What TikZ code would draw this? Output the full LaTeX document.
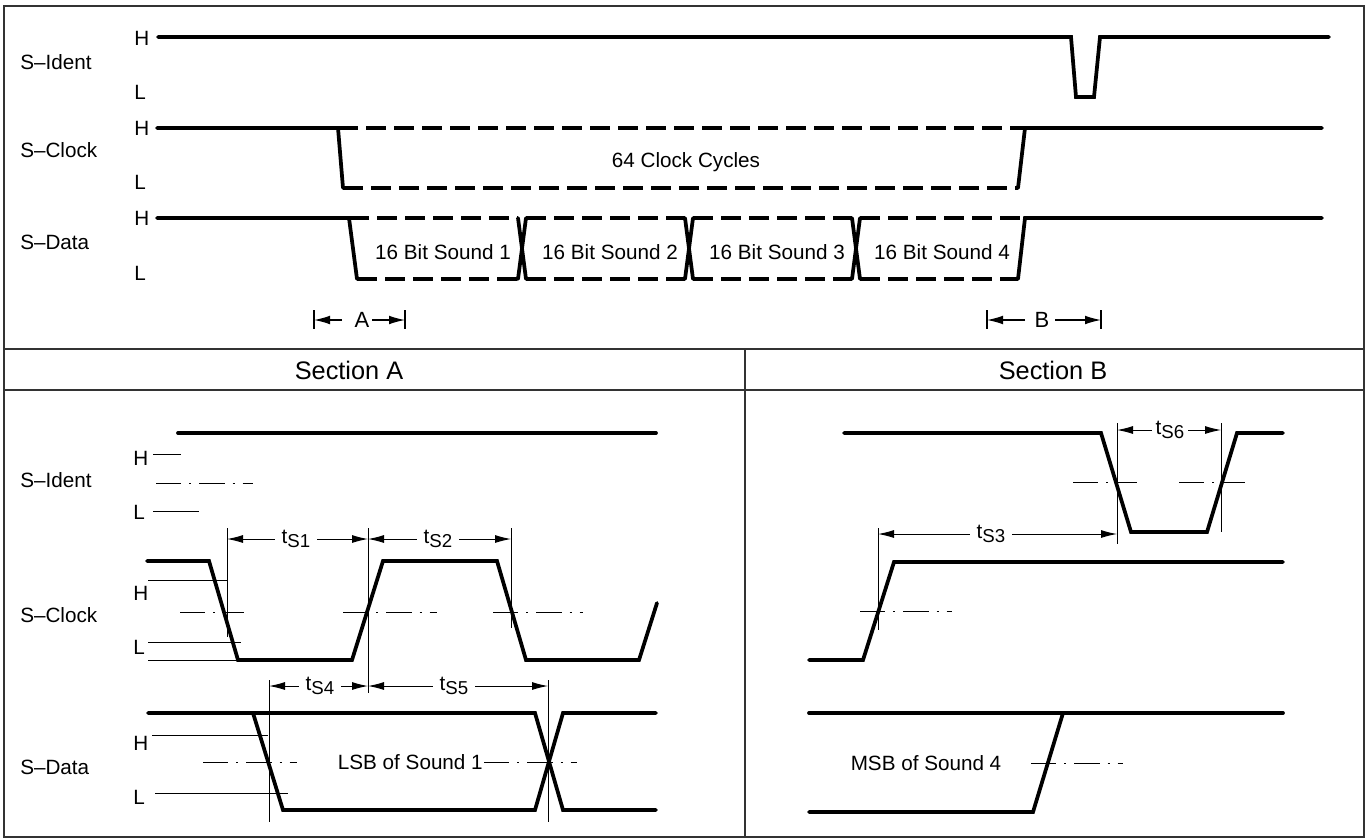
\documentclass[tikz,border=0pt]{standalone}
\usepackage{fontspec}
\setmainfont{Liberation Sans}
\usetikzlibrary{arrows.meta}
\newcommand{\tsub}[1]{t\raisebox{-3pt}{\fontsize{14}{14}\selectfont S#1}}
\begin{document}
\begin{tikzpicture}[x=0.75pt,y=-0.75pt,
  sig/.style={line width=2.8pt,line cap=round,line join=miter},
  dsig/.style={line width=2.8pt,dash pattern=on 15pt off 6pt},
  thinl/.style={line width=0.7pt},
  cline/.style={line width=0.7pt,dash pattern=on 19pt off 6pt on 1.5pt off 6pt},
  frame/.style={line width=1.2pt,draw=black!80},
  lbl/.style={font=\fontsize{15.5}{18}\selectfont,inner sep=0pt,anchor=west},
  txt/.style={font=\fontsize{15.5}{18}\selectfont,inner sep=1pt},
  head/.style={font=\fontsize{19}{22}\selectfont,inner sep=0pt},
  dim/.style={line width=0.7pt,{Latex[length=12pt,width=6pt]}-{Latex[length=12pt,width=6pt]}},
  dimlbl/.style={font=\fontsize{15.5}{18}\selectfont,fill=white,inner xsep=5pt,inner ysep=1pt},
  rarr/.style={line width=0.9pt,-{Latex[length=12pt,width=6.5pt]}},
]
\useasboundingbox (0,0) rectangle (1366,839);
% frame
\draw[frame] (4,6) rectangle (1364,837);
\draw[frame] (4,349) -- (1364,349);
\draw[frame] (4,390) -- (1364,390);
\draw[frame] (745,349) -- (745,837);
\node[head] (secA) at (349,370) {Section A};
\node[head] (secB) at (1053,370) {Section B};

% ===== top overview =====
\node[lbl] (tIdent) at (20,62) {S–Ident};
\node[lbl] (tClock) at (20,150) {S–Clock};
\node[lbl] (tData) at (20,242) {S–Data};
\node[lbl] (tIH) at (134,38) {H};
\node[lbl] (tIL) at (134,92) {L};
\node[lbl] (tCH) at (134,128) {H};
\node[lbl] (tCL) at (134,182) {L};
\node[lbl] (tDH) at (134,218) {H};
\node[lbl] (tDL) at (134,273) {L};

\draw[sig] (158,37) -- (1071,37) -- (1076,97) -- (1094,97) -- (1100,37) -- (1329,37);

\draw[sig] (157,128) -- (338,128) -- (343,188);
\draw[dsig] (343,188) -- (1018,188);
\draw[dsig] (338,128) -- (1025,128);
\draw[sig] (1018,188) -- (1025,128) -- (1322,128);
\node[txt] (cyc) at (686,162) {64 Clock Cycles};

\draw[sig] (157,218) -- (349,218) -- (357,279);
\draw[dsig] (349,218) -- (518,218);
\draw[dsig] (357,279) -- (518,279);
\draw[sig] (518,218) -- (526,279);
\draw[sig] (526,218) -- (518,279);
\draw[dsig] (526,218) -- (685,218);
\draw[dsig] (526,279) -- (685,279);
\draw[sig] (685,218) -- (693,279);
\draw[sig] (693,218) -- (685,279);
\draw[dsig] (693,218) -- (852,218);
\draw[dsig] (693,279) -- (852,279);
\draw[sig] (852,218) -- (860,279);
\draw[sig] (860,218) -- (852,279);
\draw[dsig] (860,218) -- (1025,218);
\draw[dsig] (860,279) -- (1018,279);
\draw[sig] (1018,279) -- (1025,218) -- (1322,218);
\node[txt] (s1) at (443,252) {16 Bit Sound 1};
\node[txt] (s2) at (610,252) {16 Bit Sound 2};
\node[txt] (s3) at (777,252) {16 Bit Sound 3};
\node[txt] (s4) at (942,252) {16 Bit Sound 4};

% A and B markers
\node[font=\fontsize{16.5}{18}\selectfont,inner sep=0pt] (mA) at (362,320) {A};
\coordinate (aL) at (314,320);
\coordinate (aR) at (405,320);
\draw[line width=0.9pt] (314,310) -- (314,329);
\draw[line width=0.9pt] (405,310) -- (405,329);
\draw[rarr] (342,320) -- (aL);
\draw[rarr] (372,320) -- (aR);
\node[font=\fontsize{16.5}{18}\selectfont,inner sep=0pt] (mB) at (1042,320) {B};
\coordinate (bL) at (987,320);
\coordinate (bR) at (1101,320);
\draw[line width=0.9pt] (987,310) -- (987,329);
\draw[line width=0.9pt] (1101,310) -- (1101,329);
\draw[rarr] (1025,320) -- (bL);
\draw[rarr] (1055,320) -- (bR);

% ===== Section A =====
\node[lbl] (aIdent) at (20,480) {S–Ident};
\node[lbl] (aClock) at (20,615) {S–Clock};
\node[lbl] (aData) at (20,767) {S–Data};
\node[lbl] (aIH) at (133,458) {H};
\node[lbl] (aIL) at (133,512) {L};
\node[lbl] (aCH) at (133,593) {H};
\node[lbl] (aCL) at (133,647) {L};
\node[lbl] (aDH) at (133,743) {H};
\node[lbl] (aDL) at (133,797) {L};

% ident
\draw[sig] (178,433) -- (656,433);
\draw[thinl] (153,454) -- (181,454);
\draw[thinl] (153,511) -- (199,511);
\draw[cline] (156,483) -- (253,483);

% clock
\draw[sig] (147,561) -- (209,561) -- (238,660) -- (352,660) -- (383,561) -- (497,561) -- (526,660) -- (639,660) -- (657,603);
\draw[thinl] (148,580) -- (228,580);
\draw[thinl] (148,642) -- (241,642);
\draw[thinl] (148,660) -- (238,660);
\draw[cline] (180,612) -- (244,612);
\draw[cline] (343,612) -- (437,612);
\draw[cline] (493,612) -- (583,612);
\draw[thinl] (227,528) -- (227,637);
\draw[thinl] (368,528) -- (368,693);
\draw[thinl] (511,528) -- (511,628);
\draw[dim] (227,539) -- (368,539);
\draw[dim] (368,539) -- (511,539);
\node[dimlbl] (ts1) at (296,539) {\tsub{1}};
\node[dimlbl] (ts2) at (438,539) {\tsub{2}};

% data
\draw[sig] (148,713) -- (253,713) -- (283,810) -- (535,810) -- (563,713) -- (656,713);
\draw[sig] (253,713) -- (535,713) -- (563,810) -- (656,810);
\draw[thinl] (152,735) -- (268,735);
\draw[thinl] (155,793) -- (288,793);
\draw[cline] (203,762) -- (297,762);
\draw[cline] (484,762) -- (577,762);
\draw[thinl] (269,680) -- (269,822);
\draw[thinl] (548,680) -- (548,822);
\draw[dim] (269,686) -- (368,686);
\draw[dim] (368,686) -- (548,686);
\node[dimlbl] (ts4) at (320,686) {\tsub{4}};
\node[dimlbl] (ts5) at (454,686) {\tsub{5}};
\node[txt,fill=white,inner xsep=0pt,anchor=east] (lsb) at (483,762) {LSB of Sound 1};

% ===== Section B =====
\draw[sig] (844,433) -- (1101,433) -- (1131,532) -- (1207,532) -- (1237,433) -- (1283,433);
\draw[thinl] (1117,423) -- (1117,544);
\draw[thinl] (1221,423) -- (1221,532);
\draw[dim] (1117,430) -- (1221,430);
\node[dimlbl,inner xsep=3pt] (ts6) at (1170,430) {\tsub{6}};
\draw[cline] (1073,482) -- (1137,482);
\draw[cline] (1179,482) -- (1245,482);

\draw[thinl] (878,528) -- (878,630);
\draw[dim] (878,534) -- (1117,534);
\node[dimlbl] (ts3) at (991,534) {\tsub{3}};
\draw[sig] (809,660) -- (863,660) -- (894,562) -- (1283,562);
\draw[cline] (860,611) -- (952,611);

\draw[sig] (809,713) -- (1283,713);
\draw[sig] (809,812) -- (1033,812) -- (1063,713);
\draw[cline] (1031,763) -- (1123,763);
\node[txt] (msb) at (926,763) {MSB of Sound 4};
\end{tikzpicture}
\end{document}
